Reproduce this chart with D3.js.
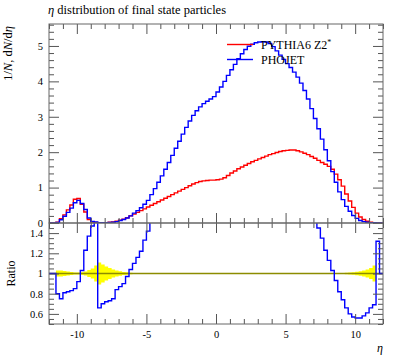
<!DOCTYPE html>
<html>
<head>
<meta charset="utf-8">
<script src="https://cdn.jsdelivr.net/npm/d3@7/dist/d3.min.js"></script>
<style>
  body { margin: 0; background: #fff; }
  svg { display: block; }
  text { font-family: "Liberation Serif", "DejaVu Serif", serif; fill: #000; }
</style>
</head>
<body>
<div id="chart"></div>
<script>
// eta binning: 96 bins of 0.25 between -12 and 12
const etaMin = -12;
const etaMax = 12;
const binWidth = 0.25;

// 1/N dN/deta, one row per unit of eta (4 bins)
const pythia = [
  0, 0, 0.02, 0.12,
  0.23, 0.37, 0.51, 0.67,
  0.69, 0.53, 0.31, 0.10,
  0.03, 0.015, 0.01, 0.01,
  0.01, 0.02, 0.03, 0.05,
  0.08, 0.11, 0.15, 0.20,
  0.25, 0.30, 0.35, 0.40,
  0.45, 0.50, 0.55, 0.60,
  0.65, 0.70, 0.75, 0.80,
  0.85, 0.90, 0.95, 1.00,
  1.05, 1.10, 1.14, 1.17,
  1.19, 1.20, 1.21, 1.21,
  1.22, 1.24, 1.28, 1.34,
  1.41, 1.47, 1.53, 1.58,
  1.63, 1.68, 1.73, 1.77,
  1.81, 1.85, 1.89, 1.93,
  1.96, 1.99, 2.02, 2.04,
  2.05, 2.06, 2.06, 2.04,
  2.01, 1.97, 1.93, 1.88,
  1.83, 1.77, 1.71, 1.66,
  1.60, 1.52, 1.38, 1.22,
  1.04, 0.82, 0.62, 0.44,
  0.28, 0.17, 0.10, 0.05,
  0.02, 0.01, 0, 0
];
const phojet = [
  0, 0, 0.015, 0.09,
  0.19, 0.30, 0.42, 0.57,
  0.64, 0.55, 0.38, 0.14,
  0.045, 0.03, 0.007, 0.007,
  0.007, 0.015, 0.02, 0.04,
  0.07, 0.10, 0.14, 0.20,
  0.28, 0.35, 0.43, 0.53,
  0.64, 0.80, 0.97, 1.15,
  1.33, 1.52, 1.71, 1.91,
  2.11, 2.31, 2.51, 2.70,
  2.88, 3.04, 3.17, 3.28,
  3.37, 3.44, 3.50, 3.57,
  3.70, 3.84, 4.00, 4.17,
  4.33, 4.48, 4.64, 4.78,
  4.90, 4.99, 5.05, 5.09,
  5.11, 5.12, 5.11, 5.07,
  4.98, 4.86, 4.74, 4.62,
  4.50, 4.39, 4.26, 4.12,
  3.95, 3.74, 3.50, 3.23,
  2.95, 2.66, 2.37, 2.07,
  1.76, 1.45, 1.15, 0.88,
  0.66, 0.47, 0.33, 0.21,
  0.13, 0.07, 0.04, 0.02,
  0.01, 0.005, 0, 0
];
// PHOJET / PYTHIA6 as shown in the lower panel
const ratio = [
  1, 1, 0.80, 0.75,
  0.81, 0.82, 0.83, 0.85,
  0.92, 1.03, 1.23, 1.37,
  1.47, 2.5, 0.66, 0.70,
  0.72, 0.73, 0.75, 0.84,
  0.87, 0.90, 0.97, 1.04,
  1.10, 1.16, 1.22, 1.33,
  1.42, 1.6, 1.76, 1.92,
  2.05, 2.17, 2.28, 2.39,
  2.48, 2.57, 2.64, 2.70,
  2.74, 2.76, 2.78, 2.80,
  2.83, 2.87, 2.89, 2.95,
  3.03, 3.10, 3.13, 3.11,
  3.07, 3.05, 3.03, 3.03,
  3.01, 2.97, 2.92, 2.88,
  2.82, 2.77, 2.70, 2.63,
  2.54, 2.44, 2.35, 2.26,
  2.20, 2.13, 2.07, 2.02,
  1.97, 1.90, 1.81, 1.72,
  1.61, 1.45, 1.35, 1.23,
  1.13, 1.03, 0.93, 0.82,
  0.74, 0.66, 0.60, 0.57,
  0.56, 0.56, 0.58, 0.61,
  0.66, 0.69, 1.32, 1
];
// relative stat. uncertainty of the PYTHIA6 reference (yellow band)
const refErr = [
  0, 0, 0.03, 0.03,
  0.025, 0.02, 0.015, 0.01,
  0.01, 0.012, 0.02, 0.035,
  0.05, 0.08, 0.11, 0.09,
  0.07, 0.055, 0.04, 0.03,
  0.022, 0.016, 0.012, 0.008,
  0.005, 0.004, 0.003, 0.003,
  0.002, 0.002, 0.002, 0.002,
  0.002, 0.002, 0.002, 0.002,
  0.002, 0.002, 0.002, 0.002,
  0.002, 0.002, 0.002, 0.002,
  0.002, 0.002, 0.002, 0.002,
  0.002, 0.002, 0.002, 0.002,
  0.002, 0.002, 0.002, 0.002,
  0.002, 0.002, 0.002, 0.002,
  0.002, 0.002, 0.002, 0.002,
  0.002, 0.002, 0.002, 0.002,
  0.002, 0.002, 0.002, 0.002,
  0.002, 0.002, 0.002, 0.002,
  0.002, 0.002, 0.002, 0.002,
  0.002, 0.003, 0.003, 0.004,
  0.005, 0.007, 0.01, 0.013,
  0.017, 0.022, 0.03, 0.04,
  0.055, 0.08, 0, 0
];

const xMajor = [-10, -5, 0, 5, 10];
const xMinor = [-12, -11, -9, -8, -7, -6, -4, -3, -2, -1, 1, 2, 3, 4, 6, 7, 8, 9, 11, 12];
const yMajor = [0, 1, 2, 3, 4, 5];
const yMinor = [0.2, 0.4, 0.6, 0.8, 1.2, 1.4, 1.6, 1.8, 2.2, 2.4, 2.6, 2.8,
  3.2, 3.4, 3.6, 3.8, 4.2, 4.4, 4.6, 4.8, 5.2, 5.4, 5.6];
const rMajor = [0.6, 0.8, 1, 1.2, 1.4];
const rMinor = [0.5, 0.55, 0.65, 0.7, 0.75, 0.85, 0.9, 0.95, 1.05, 1.1, 1.15,
  1.25, 1.3, 1.35, 1.45, 1.5];

const series = [
  {name: 'PYTHIA6 Z2', sup: '*', values: pythia, color: '#ff0000'},
  {name: 'PHOJET', sup: '', values: phojet, color: '#0000ff'}
];

const width = 397, height = 358;
const padLeft = 49, padRight = 383, padTop = 24, padMid = 223, padBottom = 324;

const svg = d3.select('#chart').append('svg')
  .attr('width', width)
  .attr('height', height);

const x = d3.scaleLinear().domain([etaMin, etaMax]).range([padLeft, padRight]);
const yMain = d3.scaleLinear().domain([0, 5.62]).range([padMid, padTop]);
const yRatio = d3.scaleLinear().domain([0.5, 1.5]).range([padBottom, padMid]);

// bin low edges plus the closing edge, for step lines
const edges = d3.range(pythia.length + 1).map(i => etaMin + i * binWidth);
const stepPoints = function(vals) {
  return edges.map((e, i) => [e, vals[Math.min(i, vals.length - 1)]]);
};

// clip regions for the two panels
const defs = svg.append('defs');
defs.append('clipPath').attr('id', 'clipMain')
  .append('rect').attr('x', padLeft).attr('y', padTop)
  .attr('width', padRight - padLeft).attr('height', padMid - padTop);
defs.append('clipPath').attr('id', 'clipRatio')
  .append('rect').attr('x', padLeft).attr('y', padMid)
  .attr('width', padRight - padLeft).attr('height', padBottom - padMid);

// main panel histograms
const mainLine = d3.line()
  .x(d => x(d[0]))
  .y(d => yMain(d[1]))
  .curve(d3.curveStepAfter);

svg.append('g').attr('clip-path', 'url(#clipMain)')
  .selectAll('path.hist')
  .data(series)
  .enter()
  .append('path')
  .attr('class', 'hist')
  .attr('d', d => mainLine(stepPoints(d.values)))
  .style('fill', 'none')
  .style('stroke', d => d.color)
  .style('stroke-width', 1.4);

// ratio panel: reference band, reference line, ratio
const gRatio = svg.append('g').attr('clip-path', 'url(#clipRatio)');
const band = d3.area()
  .x(d => x(d[0]))
  .y0(d => yRatio(1 - d[1]))
  .y1(d => yRatio(1 + d[1]))
  .curve(d3.curveStepAfter);
gRatio.append('path')
  .attr('d', band(stepPoints(refErr)))
  .style('fill', '#ffff00')
  .style('stroke', 'none');
gRatio.append('line')
  .attr('x1', padLeft).attr('x2', padRight)
  .attr('y1', yRatio(1)).attr('y2', yRatio(1))
  .style('stroke', '#8c8c00')
  .style('stroke-width', 1.3);
const ratioLine = d3.line()
  .x(d => x(d[0]))
  .y(d => yRatio(Math.min(d[1], 1.6)))
  .curve(d3.curveStepAfter);
gRatio.append('path')
  .attr('d', ratioLine(stepPoints(ratio)))
  .style('fill', 'none')
  .style('stroke', '#0000ff')
  .style('stroke-width', 1.4);

// ticks on all four sides of each panel, pointing inwards
const tickColor = '#555';
function addAxis(axis, tx, ty) {
  let g = svg.append('g')
    .attr('transform', 'translate(' + tx + ',' + ty + ')')
    .call(axis);
  g.select('.domain').remove();
  g.selectAll('line').style('stroke', tickColor);
  g.selectAll('text')
    .style('font-family', '"Liberation Serif", serif')
    .style('font-size', '10.5px');
  return g;
}

// x ticks
[[padTop, 'down'], [padMid, 'up'], [padMid, 'down'], [padBottom, 'up']].forEach(function(p) {
  let maker = p[1] === 'down' ? d3.axisBottom : d3.axisTop;
  addAxis(maker(x).tickValues(xMajor).tickSize(10).tickFormat(''), 0, p[0]);
  addAxis(maker(x).tickValues(xMinor).tickSize(5).tickFormat(''), 0, p[0]);
});
addAxis(d3.axisBottom(x).tickValues(xMajor).tickSize(0)
  .tickPadding(7).tickFormat(d => String(d)), 0, padBottom);

// y ticks, main panel
addAxis(d3.axisRight(yMain).tickValues(yMajor).tickSize(10).tickFormat(''), padLeft, 0);
addAxis(d3.axisRight(yMain).tickValues(yMinor).tickSize(5).tickFormat(''), padLeft, 0);
addAxis(d3.axisLeft(yMain).tickValues(yMajor).tickSize(0)
  .tickPadding(6).tickFormat(d => String(d)), padLeft, 0);
addAxis(d3.axisLeft(yMain).tickValues(yMajor).tickSize(10).tickFormat(''), padRight, 0);
addAxis(d3.axisLeft(yMain).tickValues(yMinor).tickSize(5).tickFormat(''), padRight, 0);

// y ticks, ratio panel
addAxis(d3.axisRight(yRatio).tickValues(rMajor).tickSize(10).tickFormat(''), padLeft, 0);
addAxis(d3.axisRight(yRatio).tickValues(rMinor).tickSize(5).tickFormat(''), padLeft, 0);
addAxis(d3.axisLeft(yRatio).tickValues(rMajor).tickSize(0)
  .tickPadding(6).tickFormat(d => String(d)), padLeft, 0);
addAxis(d3.axisLeft(yRatio).tickValues(rMajor).tickSize(10).tickFormat(''), padRight, 0);
addAxis(d3.axisLeft(yRatio).tickValues(rMinor).tickSize(5).tickFormat(''), padRight, 0);

// frames
svg.append('rect')
  .attr('x', padLeft).attr('y', padTop)
  .attr('width', padRight - padLeft).attr('height', padMid - padTop)
  .style('fill', 'none').style('stroke', '#666');
svg.append('rect')
  .attr('x', padLeft).attr('y', padMid)
  .attr('width', padRight - padLeft).attr('height', padBottom - padMid)
  .style('fill', 'none').style('stroke', '#666');

// title and axis labels
let title = svg.append('text')
  .attr('x', 48).attr('y', 14)
  .style('font-size', '12.5px');
title.append('tspan').style('font-style', 'italic').text('η');
title.append('tspan').text(' distribution of final state particles');

let yLab = svg.append('text')
  .attr('transform', 'translate(12,26) rotate(-90)')
  .attr('text-anchor', 'end')
  .style('font-size', '12.5px');
yLab.append('tspan').text('1/');
yLab.append('tspan').style('font-style', 'italic').text('N');
yLab.append('tspan').text(', d');
yLab.append('tspan').style('font-style', 'italic').text('N');
yLab.append('tspan').text('/d');
yLab.append('tspan').style('font-style', 'italic').text('η');

svg.append('text')
  .attr('transform', 'translate(15,' + yRatio(1) + ') rotate(-90)')
  .attr('text-anchor', 'middle')
  .style('font-size', '12px')
  .text('Ratio');

svg.append('text')
  .attr('x', 383).attr('y', 352)
  .attr('text-anchor', 'end')
  .style('font-size', '12px')
  .style('font-style', 'italic')
  .text('η');

// legend
let legend = svg.selectAll('g.legend')
  .data(series)
  .enter()
  .append('g')
  .attr('class', 'legend')
  .attr('transform', (d, i) => 'translate(0,' + (44.5 + i * 15) + ')');
legend.append('line')
  .attr('x1', 227).attr('x2', 253)
  .style('stroke', d => d.color)
  .style('stroke-width', 1.4);
let legendText = legend.append('text')
  .attr('x', 261).attr('y', 4)
  .style('font-size', '12px');
legendText.append('tspan').text(d => d.name);
legendText.append('tspan')
  .attr('dy', -4)
  .style('font-size', '8px')
  .text(d => d.sup);
</script>
</body>
</html>
